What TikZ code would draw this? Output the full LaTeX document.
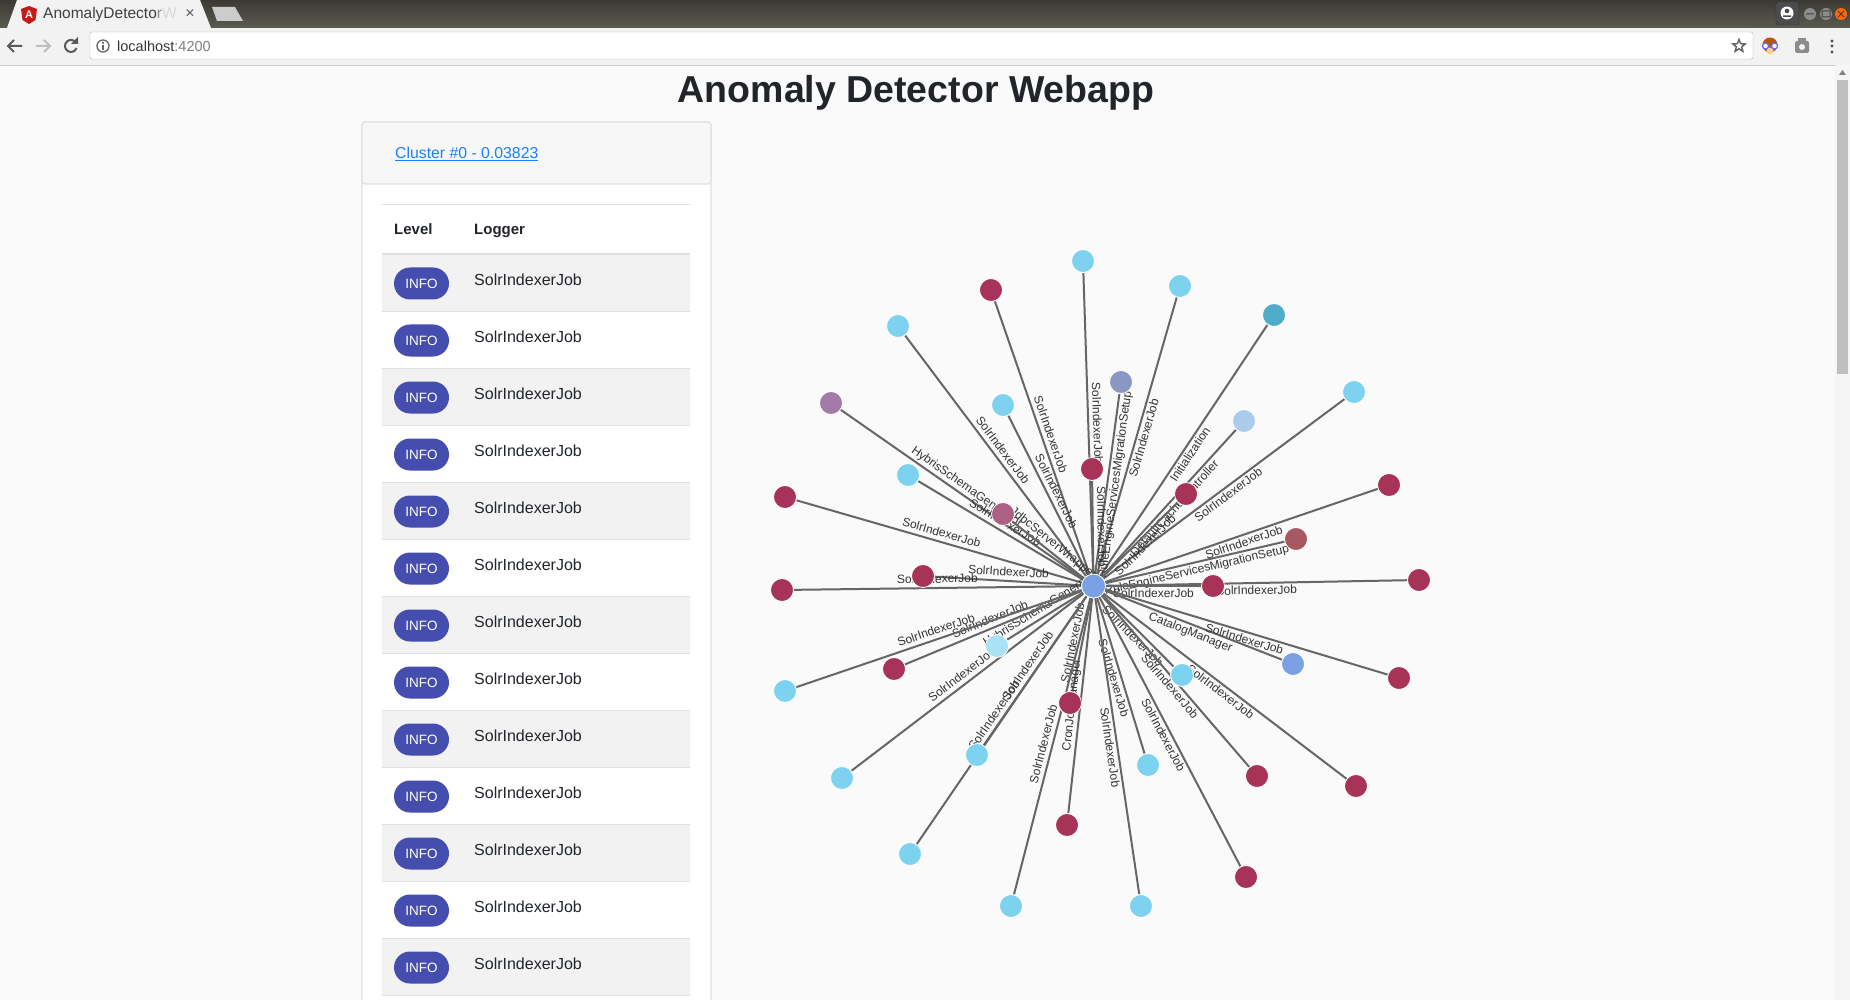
\documentclass[tikz,border=0pt]{standalone}
\usepackage{fontspec}
\setmainfont{Liberation Sans}
\usetikzlibrary{shapes.geometric}

\definecolor{pagebg}{HTML}{FAFAFA}
\definecolor{bartop}{HTML}{3A3934}
\definecolor{barlow}{HTML}{5C5B51}
\definecolor{barlight}{HTML}{F2F2F2}
\definecolor{cardline}{HTML}{E0E0E3}
\definecolor{cardhead}{HTML}{F7F7F7}
\definecolor{stripe}{HTML}{F2F2F3}
\definecolor{linkblue}{HTML}{1A7FFF}
\definecolor{pill}{HTML}{454EAF}
\definecolor{inktext}{HTML}{212529}
\definecolor{edgegrey}{HTML}{666666}
\definecolor{edgetext}{HTML}{333333}
\definecolor{sky}{HTML}{7DD3EF}
\definecolor{palesky}{HTML}{A8E2F4}
\definecolor{crimson}{HTML}{A83358}
\definecolor{teal}{HTML}{4FACC9}
\definecolor{slate}{HTML}{8A97C2}
\definecolor{plum}{HTML}{A47AA8}
\definecolor{haze}{HTML}{ABCBEC}
\definecolor{mauve}{HTML}{AB6084}
\definecolor{rust}{HTML}{A85860}
\definecolor{peri}{HTML}{7CA0E4}

\pgfdeclarelayer{dots}
\pgfsetlayers{main,dots}

\tikzset{
    plain/.style={inner sep=0pt, font=\fontsize{16}{19}\selectfont, text=inktext},
    headcell/.style={plain, anchor=base west, font=\fontsize{15}{19}\selectfont\bfseries},
    loggercell/.style={plain, anchor=west},
    levelpill/.style={rounded corners=16pt, fill=pill, minimum width=55pt, minimum height=32pt,
        inner sep=0pt, text=white, font=\fontsize{13.5}{16}\selectfont},
    dot/.style={circle, draw=white, line width=0.8pt, minimum size=23pt, inner sep=0pt},
    edgeline/.style={draw=edgegrey, line width=2pt},
    edgelabel/.style={midway, sloped, inner sep=1.5pt, text height=9pt, text depth=2.5pt,
        text=edgetext, font=\fontsize{12}{14}\selectfont},
    toolicon/.style={line width=2pt, draw=#1},
    toolicon/.default={black!65},
}

\begin{document}
\begin{tikzpicture}[x=1pt, y=-1pt]
    \useasboundingbox (0,0) rectangle (1850,1000);
    \fill[pagebg] (0,0) rectangle (1850,1000);

    % Window bar
    \shade[top color=bartop, bottom color=barlow] (0,0) rectangle (1850,28);
    \fill[barlight] (0,28) rectangle (1850,65);
    \draw[black!20] (0,65) -- (1850,65);

    % Tabs
    \fill[barlight] (7,28) -- (17,0) -- (200,0) -- (211,28) -- cycle;
    \fill[black!20] (212,7) -- (235,7) -- (243,21) -- (217,21) -- cycle;
    \fill[red!75!black!90!white] (29,6) -- (37,9) -- (35.5,20) -- (29,24) -- (22.5,20) -- (21,9) -- cycle;
    \node[inner sep=0pt, text=white, font=\fontsize{11}{12}\selectfont\bfseries] (tabicon) at (29,15) {A};
    \node[anchor=west, inner sep=0pt, text=black!75, font=\fontsize{15.5}{18}\selectfont] (tabtitle) at (43,14)
        {AnomalyDetecto\textcolor{black!45}{r}\textcolor{black!15}{W}};
    \node[inner sep=0pt, text=black!65, font=\fontsize{16}{18}\selectfont] (tabclose) at (190,14) {×};

    % Address bar
    \draw[fill=white, draw=black!30, rounded corners=2pt] (90,32) rectangle (1753,59);
    \node[anchor=west, inner sep=0pt, text=black!80, font=\fontsize{14.5}{17}\selectfont] (address) at (117,46)
        {localhost\textcolor{black!50}{:4200}};
    \draw[toolicon] (22,46) -- (8,46) (14,40) -- (8,46) -- (14,52);
    \draw[toolicon=black!25] (50,46) -- (36,46) (44,40) -- (50,46) -- (44,52);
    \draw[toolicon] (75.6,42.1) arc (-40:-340:6);
    \fill[black!65] (78,37) -- (78,44) -- (71,44) -- cycle;
    \draw[black!60, line width=1.3pt] (103,46) circle (6);
    \fill[black!60] (102.2,45) rectangle (103.8,50) (102.2,42) rectangle (103.8,43.6);
    \node[star, star points=5, star point ratio=2.3, draw=black!60, line width=1.5pt, inner sep=0pt,
        minimum size=13pt] (bookmark) at (1739,46) {};

    % Extensions
    \fill[orange!70!black] (1770,45) circle (7.5);
    \fill[orange!40!white] (1770,51) circle (3.5);
    \draw[blue!60, fill=white, line width=1.2pt] (1765.5,46) circle (3) (1774.5,46) circle (3);
    \fill[black!45, rounded corners=1.5pt] (1795,41) rectangle (1809,53);
    \fill[black!45] (1798,38) rectangle (1806,42);
    \fill[barlight] (1802,47) circle (3);
    \foreach \k in {41,46,52}
        \fill[black!70] (1832,\k) circle (1.6);

    % Window buttons
    \draw[black!80, fill=black!70, rounded corners=2pt] (1776,2) rectangle (1799,25);
    \fill[white] (1787,13) circle (6.5);
    \fill[black!70] (1787,11) circle (2.3) (1783,15.5) rectangle (1791,17);
    \fill[black!45] (1810,14) circle (6);
    \fill[black!45] (1826,14) circle (6);
    \fill[orange!80!red] (1841,14) circle (6);
    \draw[black!75, line width=1pt] (1806,14) -- (1814,14) (1822,11) rectangle (1830,17)
        (1838,11) -- (1844,17) (1844,11) -- (1838,17);

    % Scrollbar
    \fill[black!4] (1835,65) rectangle (1850,1000);
    \fill[black!50] (1842.5,70) -- (1846,75) -- (1839,75) -- cycle;
    \fill[black!25] (1837,80) rectangle (1848,374);

    % Heading
    \node[inner sep=0pt, text=inktext, font=\fontsize{37.5}{45}\selectfont\bfseries] (heading) at (916,93)
        {Anomaly Detector Webapp};

    % Card
    \draw[draw=cardline, line width=1.2pt, fill=white, rounded corners=3pt] (362,122) rectangle (711,1012);
    \draw[draw=cardline, line width=1.2pt, fill=cardhead, rounded corners=3pt] (362,122) -- (711,122)
        -- (711,184) -- (362,184) -- cycle;
    \node[plain, anchor=base west, text=linkblue, font=\fontsize{15.8}{19}\selectfont] (cluster) at (395,159)
        {\underline{Cluster \#0 - 0.03823}};

    % Table
    \draw[draw=cardline] (382,204) -- (690,204);
    \node[headcell] (levelhead) at (394,235) {Level};
    \node[headcell] (loggerhead) at (474,235) {Logger};
    \draw[draw=cardline, line width=2pt] (382,254) -- (690,254);
    \foreach \r in {0,2,...,12}
        \fill[stripe] (382,{255+57*\r}) rectangle (690,{311+57*\r});
    \foreach \r in {0,...,12} {
        \draw[draw=cardline] (382,{311+57*\r}) -- (690,{311+57*\r});
        \node[levelpill] (badge\r) at (421.5,{283.5+57*\r}) {INFO};
        \node[loggercell] (logger\r) at (474,{279.5+57*\r}) {SolrIndexerJob};
    }

    % Hub of the graph
    \begin{pgfonlayer}{dots}
        \node[dot, fill=peri, minimum size=24pt] (hub) at (1093.5,586) {};
    \end{pgfonlayer}

    % Leaves with their links
    \foreach \i/\x/\y/\c/\s/\t in {
        1/1083/261/sky/above/SolrIndexerJob,
        2/991/290/crimson/above/SolrIndexerJob,
        3/1180/286/sky/below/SolrIndexerJob,
        4/1274/315/teal/below/Initialization,
        5/898/326/sky/above/SolrIndexerJob,
        6/1354/392/sky/below/SolrIndexerJob,
        7/1121/382/slate/below/RuleEngineServicesMigrationSetup,
        8/1003/405/sky/above/SolrIndexerJob,
        9/831/403/plum/above/HybrisSchemaGenerator,
        10/1244/421/haze/below/DefaultCacheController,
        11/908/475/sky/above/SolrIndexerJob,
        12/1092/469/crimson/above/SolrIndexerJob,
        13/1186/494/crimson/below/SolrIndexerJob,
        14/1389/485/crimson/below/SolrIndexerJob,
        15/785/497/crimson/above/SolrIndexerJob,
        16/1003/514/mauve/above/JdbcServerWrapper,
        17/1296/539/rust/below/RuleEngineServicesMigrationSetup,
        18/923/576/crimson/above/SolrIndexerJob,
        19/782/590/crimson/above/SolrIndexerJob,
        20/1419/580/crimson/below/SolrIndexerJob,
        21/1213/586/crimson/below/SolrIndexerJob,
        22/997/646/palesky/above/HybrisSchemaGenerator,
        23/1293/664/peri/below/CatalogManager,
        24/1182/675/sky/below/SolrIndexerJob,
        25/894/669/crimson/above/SolrIndexerJob,
        26/785/691/sky/above/SolrIndexerJob,
        27/1399/678/crimson/below/SolrIndexerJob,
        28/1070/703/crimson/above/SolrIndexerJob,
        29/977/755/sky/above/SolrIndexerJob,
        30/1148/765/sky/below/SolrIndexerJob,
        31/842/778/sky/above/SolrIndexerJob,
        32/1257/776/crimson/below/SolrIndexerJob,
        33/1356/786/crimson/below/SolrIndexerJob,
        34/1067/825/crimson/above/CronJobManager,
        35/910/854/sky/above/SolrIndexerJob,
        36/1246/877/crimson/below/SolrIndexerJob,
        37/1011/906/sky/above/SolrIndexerJob,
        38/1141/906/sky/below/SolrIndexerJob} {
        \begin{pgfonlayer}{dots}
            \node[dot, fill=\c] (leaf\i) at (\x,\y) {};
        \end{pgfonlayer}
        \draw[edgeline] (hub) -- (leaf\i) node[edgelabel, \s] (linklabel\i) {\t};
    }
\end{tikzpicture}
\end{document}
